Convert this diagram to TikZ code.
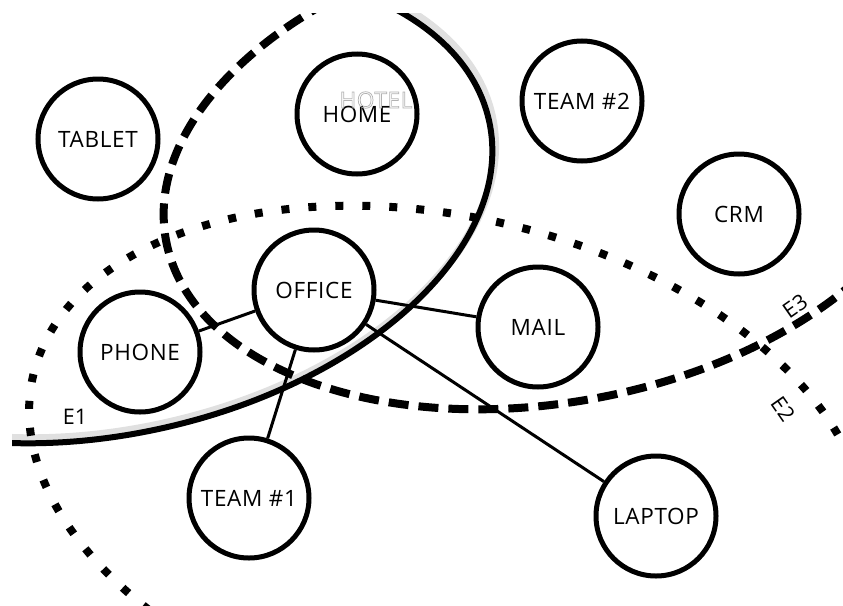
\documentclass[tikz,border=0pt]{standalone}
\usepackage{fontspec}
\setmainfont{Open Sans}
\newfontfamily\nodefont[LetterSpace=3]{Open Sans}
\newcommand{\outlinetext}[1]{\special{pdf:literal direct 1 Tr 0.7 w}#1\special{pdf:literal direct 0 Tr}}
\tikzset{
  dev/.style={circle, draw=black, line width=5pt, fill=white, minimum size=120pt, inner sep=0pt,
    font=\nodefont\fontsize{22.5}{22.5}\selectfont},
  link/.style={line width=3pt},
  elabel/.style={font=\fontsize{21.5}{21.5}\selectfont, inner sep=0pt},
  eone/.style={line width=6pt},
  etwo/.style={line width=8pt, dash pattern=on 8pt off 19pt},
  ethree/.style={line width=8pt, dash pattern=on 20pt off 10pt},
}
\begin{document}
\begin{tikzpicture}[x=1pt,y=-1pt]
\useasboundingbox (0,0) rectangle (843,605);
\fill[white] (0,0) rectangle (843,605);
\begin{scope}
\clip (12,13) rectangle (843,605);
% E1 halo and line
\draw[black!12, line width=8pt, shift={(116,199.5)}, rotate=12.6] (0,0) ellipse [x radius=385, y radius=229];
\draw[eone, shift={(113.3,204.5)}, rotate=12.6] (0,0) ellipse [x radius=385, y radius=229];
% E2 dotted
\draw[etwo, shift={(448,472.3)}, rotate=-13.15] (0,0) ellipse [x radius=426, y radius=255];
% E3 dashed
\draw[ethree, shift={(553.3,168.1)}, rotate=10.6] (0,0) ellipse [x radius=394, y radius=234];
\end{scope}
% labels of regions
\node[elabel] (e1) at (75,417) {E1};
\node[elabel, rotate=-55] (e2) at (783,409) {E2};
\node[elabel, rotate=35] (e3) at (795,306) {E3};
% nodes
\node[dev] (tablet) at (98,139) {TABLET};
\node[dev] (home) at (357,114) {HOME};
\node[dev] (team2) at (582,101) {TEAM \#2};
\node[dev] (crm) at (739,214) {CRM};
\node[dev] (office) at (314,290) {OFFICE};
\node[dev] (phone) at (140,352) {PHONE};
\node[dev] (mail) at (538,327) {MAIL};
\node[dev] (team1) at (249,498) {TEAM \#1};
\node[dev] (laptop) at (656,516) {LAPTOP};
\node[text=black!30, font=\nodefont\fontsize{22.5}{22.5}\selectfont, inner sep=0pt] (hotel) at (376,100) {\outlinetext{HOTEL}};
% links
\draw[link] (office) -- (phone);
\draw[link] (office) -- (mail);
\draw[link] (office) -- (team1);
\draw[link] (office) -- (laptop);
\end{tikzpicture}
\end{document}
